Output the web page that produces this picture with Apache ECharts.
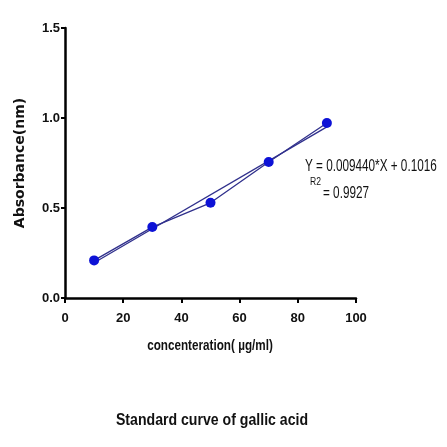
<!DOCTYPE html>
<html>
<head>
<meta charset="UTF-8">
<title>Standard curve of gallic acid</title>
<script src="https://cdn.jsdelivr.net/npm/echarts@6/dist/echarts.min.js"></script>
<style>
  html, body { margin: 0; padding: 0; background: #fff; }
  #main { width: 447px; height: 447px; }
</style>
</head>
<body>
<div id="main"></div>
<script>
// data
var concentration = [10, 30, 50, 70, 90];
var absorbance = [0.209, 0.394, 0.529, 0.756, 0.972];
var fitX = [10, 90];
var fitY = [0.196, 0.951];
var equationText = 'Y = 0.009440*X + 0.1016';
var r2Label = 'R2';
var r2Value = '= 0.9927';
var xName = 'concenteration( \u00b5g/ml)';
var yName = 'Absorbance(nm)';
var chartTitle = 'Standard curve of gallic acid';

var sans = '"Liberation Sans", Arial, sans-serif';
var lineColor = '#30308c';

function pairs(xs, ys) {
  var out = [];
  for (var i = 0; i < xs.length; i++) out.push([xs[i], ys[i]]);
  return out;
}

// narrow text: the original uses a condensed face, so squeeze Liberation Sans
function narrowText(str, x, y, size, weight, align, sx) {
  return {
    type: 'text',
    x: x,
    y: y,
    scaleX: sx,
    style: {
      text: str,
      x: 0, y: 0,
      align: align,
      verticalAlign: 'middle',
      font: weight + ' ' + size + 'px ' + sans,
      fill: '#111'
    }
  };
}

var chart = echarts.init(document.getElementById('main'));
chart.setOption({
  animation: false,
  backgroundColor: '#fff',
  grid: { left: 65, right: 91, top: 28, bottom: 149 },
  xAxis: {
    type: 'value',
    min: 0, max: 100, interval: 20,
    axisLine: { onZero: false, lineStyle: { color: '#000', width: 2.5 } },
    axisTick: { show: true, length: 5, lineStyle: { color: '#000', width: 2 } },
    axisLabel: { margin: 14, fontFamily: sans, fontSize: 13, fontWeight: 'bold', color: '#111' },
    splitLine: { show: false }
  },
  yAxis: {
    type: 'value',
    min: 0, max: 1.5, interval: 0.5,
    name: yName,
    nameLocation: 'middle',
    nameGap: 38,
    nameTextStyle: { fontFamily: '"DejaVu Sans", sans-serif', fontSize: 14, fontWeight: 'bold', color: '#111' },
    axisLine: { show: true, onZero: false, lineStyle: { color: '#000', width: 2.5 } },
    axisTick: { show: true, length: 4, lineStyle: { color: '#000', width: 2 } },
    axisLabel: {
      margin: 5, fontFamily: sans, fontSize: 13, fontWeight: 'bold', color: '#111',
      formatter: function (v) { return v.toFixed(1); }
    },
    splitLine: { show: false }
  },
  series: [
    {
      name: 'fit',
      type: 'line',
      data: pairs(fitX, fitY),
      symbol: 'none',
      lineStyle: { color: lineColor, width: 1.3 },
      z: 2
    },
    {
      name: 'data',
      type: 'line',
      data: pairs(concentration, absorbance),
      symbol: 'circle',
      symbolSize: 10,
      itemStyle: { color: '#0d12d6' },
      lineStyle: { color: lineColor, width: 1.3 },
      z: 3
    }
  ],
  graphic: [
    narrowText(xName, 210, 346, 15, 'bold', 'center', 0.78),
    narrowText(chartTitle, 212, 420, 17, 'bold', 'center', 0.83),
    narrowText(equationText, 305, 166, 17, 'normal', 'left', 0.69),
    narrowText(r2Label, 310, 182, 11, 'normal', 'left', 0.78),
    narrowText(r2Value, 323, 193, 17, 'normal', 'left', 0.69)
  ]
});
</script>
</body>
</html>
